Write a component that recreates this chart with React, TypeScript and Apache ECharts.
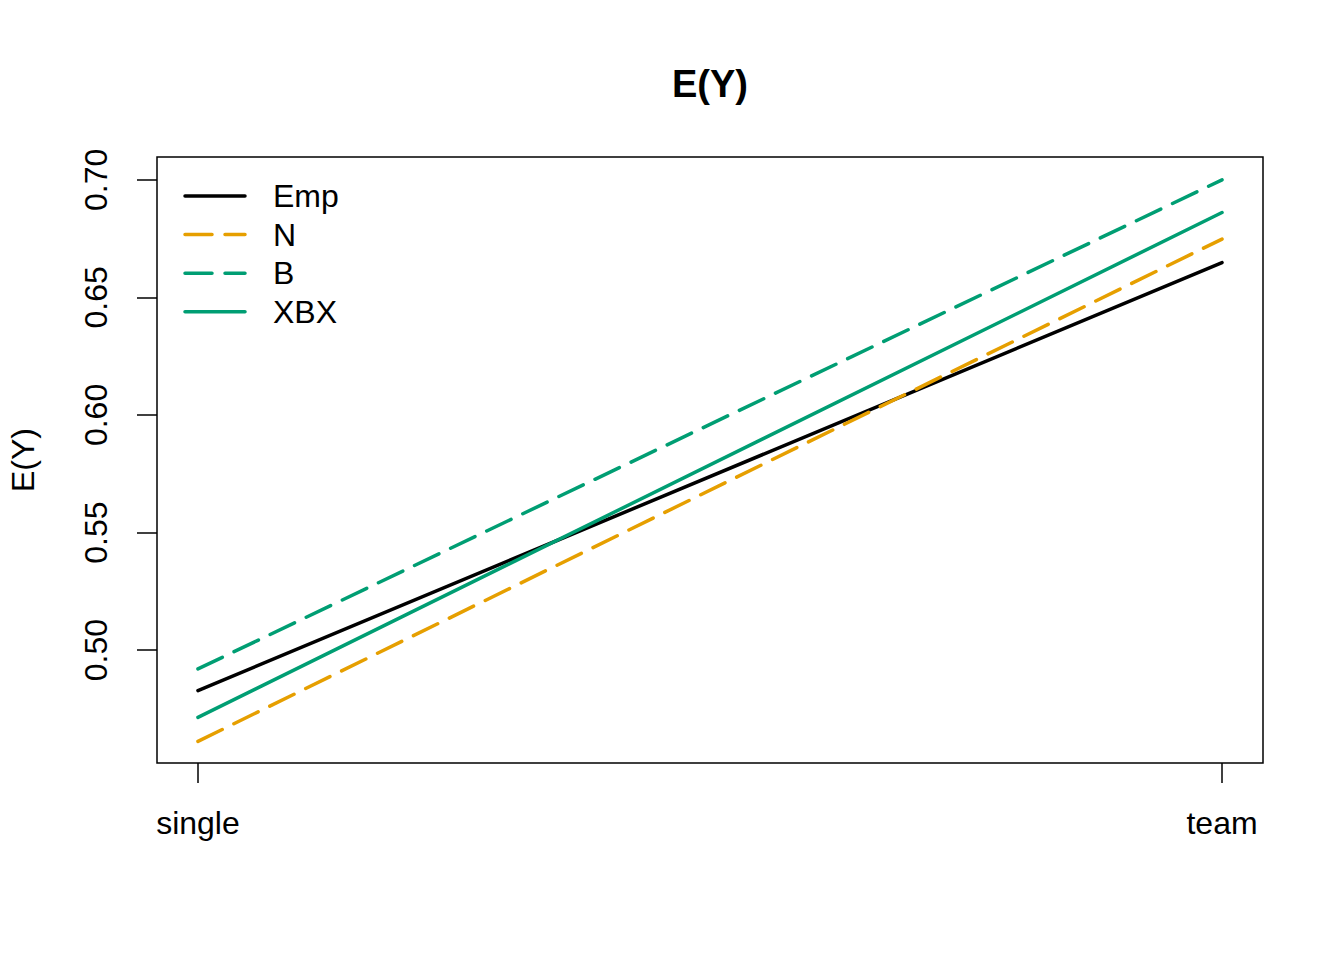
import React, { useEffect, useRef } from "react";
import * as echarts from "echarts";

const categories = ["single", "team"];
const seriesNames = ["Emp", "N", "B", "XBX"];
const empValues = [0.4828, 0.6648];
const nValues = [0.4612, 0.6748];
const bValues = [0.492, 0.7];
const xbxValues = [0.4714, 0.6861];
const yTicks = [0.5, 0.55, 0.6, 0.65, 0.7];

const FONT = "Liberation Sans, Arial, Helvetica, sans-serif";
const ORANGE = "#E69F00";
const GREEN = "#009E73";
const seriesColors = ["#000000", ORANGE, GREEN, GREEN];
const seriesDashed = [false, true, true, false];
const DASH = [27, 13];
const LW = 3.5;
const FS = 32;

const toPoints = (vals: number[]) => vals.map((v, i) => [i + 1, v]);

export default function App() {
  const ref = useRef<HTMLDivElement>(null);
  useEffect(() => {
    document.body.style.margin = "0";
    const chart = echarts.init(ref.current!, null, { renderer: "svg" });
    const mkSeries = (name: string, vals: number[], color: string, dashed: boolean) => ({
      name,
      type: "line",
      data: toPoints(vals),
      symbol: "none",
      showSymbol: false,
      lineStyle: {
        color,
        width: LW,
        type: dashed ? DASH : "solid",
        cap: "round",
      },
      itemStyle: { color },
      z: 3,
    });
    const legendX0 = 185;
    const legendX1 = 245;
    const legendTextX = 273;
    const legendY0 = 196;
    const legendStep = 38.6;
    const legendGraphics: any[] = [];
    seriesNames.forEach((name, i) => {
      const y = legendY0 + i * legendStep;
      legendGraphics.push({
        type: "line",
        shape: { x1: legendX0, y1: y, x2: legendX1, y2: y },
        style: {
          stroke: seriesColors[i],
          lineWidth: LW,
          lineDash: seriesDashed[i] ? DASH : null,
          lineCap: "round",
        },
        z: 10,
      });
      legendGraphics.push({
        type: "text",
        x: legendTextX,
        y,
        style: {
          text: name,
          fontSize: FS,
          fontFamily: FONT,
          fill: "#000",
          verticalAlign: "middle",
          align: "left",
        },
        z: 10,
      });
    });
    chart.setOption({
      animation: false,
      backgroundColor: "#ffffff",
      textStyle: { fontFamily: FONT },
      title: {
        text: "E(Y)",
        left: 705,
        textAlign: "center",
        top: 60,
        textStyle: { fontSize: 38, fontWeight: "bold", color: "#000", fontFamily: FONT },
      },
      grid: {
        left: 157,
        right: 81,
        top: 157,
        bottom: 197,
        show: true,
        borderColor: "#000",
        borderWidth: 1.5,
        backgroundColor: "transparent",
        containLabel: false,
        outerBoundsMode: "none",
      },
      graphic: legendGraphics,
      xAxis: {
        type: "value",
        min: 0.96,
        max: 2.04,
        splitLine: { show: false },
        axisLine: { show: false },
        axisTick: {
          show: true,
          customValues: [1, 2],
          length: 20,
          lineStyle: { color: "#000", width: 1.5 },
        },
        axisLabel: {
          customValues: [1, 2],
          formatter: (v: number) => categories[Math.round(v) - 1] ?? "",
          fontSize: FS,
          color: "#000",
          margin: 44,
          fontFamily: FONT,
        },
      },
      yAxis: {
        type: "value",
        min: 0.452,
        max: 0.7097,
        name: "E(Y)",
        nameLocation: "middle",
        nameGap: 118,
        nameTextStyle: { fontSize: FS, color: "#000", fontFamily: FONT },
        splitLine: { show: false },
        axisLine: { show: false },
        axisTick: {
          show: true,
          customValues: yTicks,
          length: 20,
          lineStyle: { color: "#000", width: 1.5 },
        },
        axisLabel: {
          customValues: yTicks,
          rotate: 90,
          formatter: (v: number) => v.toFixed(2),
          fontSize: FS,
          color: "#000",
          margin: 45,
          fontFamily: FONT,
        },
      },
      series: [
        mkSeries("Emp", empValues, seriesColors[0], seriesDashed[0]),
        mkSeries("N", nValues, seriesColors[1], seriesDashed[1]),
        mkSeries("B", bValues, seriesColors[2], seriesDashed[2]),
        mkSeries("XBX", xbxValues, seriesColors[3], seriesDashed[3]),
      ],
    });
    return () => chart.dispose();
  }, []);
  return <div ref={ref} style={{ width: 1344, height: 960 }} />;
}
